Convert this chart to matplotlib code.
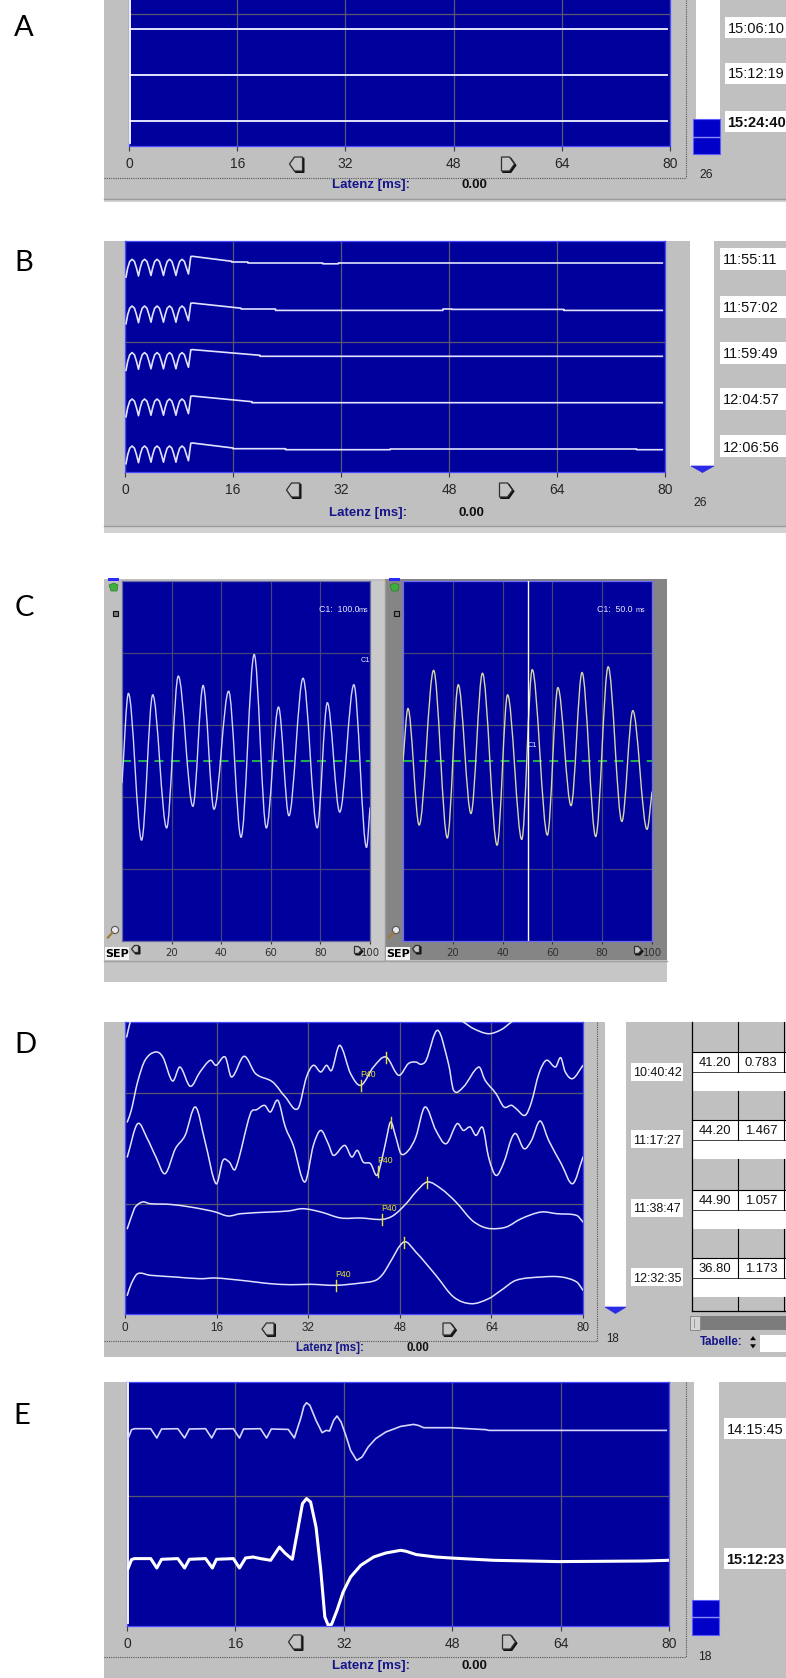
import numpy as np
import matplotlib
matplotlib.use("Agg")
import matplotlib.pyplot as plt
from matplotlib import font_manager
from matplotlib.patches import Rectangle, Polygon, PathPatch, Circle
from matplotlib.path import Path

# ======================= DATA =======================
panel_letters = ["A", "B", "C", "D", "E"]
latency_ticks = [0, 16, 32, 48, 64, 80]
sep_ticks = [20, 40, 60, 80, 100]

# --- A ---
a_times = ["15:06:10", "15:12:19", "15:24:40"]
a_bold = [False, False, True]
a_ms = [0.2, 79.6]
a_amp = [[0.0, 0.0], [0.0, 0.0], [0.0, 0.0]]
a_count = "26"

# --- B ---
b_times = ["11:55:11", "11:57:02", "11:59:49", "12:04:57", "12:06:56"]
b_count = "26"
b_onset_ms = [0.15, 0.4, 0.7, 1.05, 1.4, 1.7, 2.0, 2.25, 2.55, 2.9, 3.25, 3.55, 3.85,
              4.1, 4.4, 4.75, 5.1, 5.4, 5.7, 5.95, 6.25, 6.6, 6.95, 7.25, 7.55,
              7.8, 8.1, 8.45, 8.8, 9.1, 9.4, 9.75, 10.0]
b_onset_amp = [-14, -5, 1.5, 3.7, 1.5, -5, -13, -5, 1.5, 3.7, 1.5, -5, -12.5,
               -5, 1.5, 3.7, 1.5, -5, -12.5, -5, 1.5, 3.7, 1.5, -5, -12.5,
               -5, 1.5, 3.7, 1.5, -5, -11, 6.5, 6.7]
b_tail_ms = [
    [15.8, 15.8, 18.2, 18.2, 29.3, 29.3, 31.6, 31.6, 79.6],
    [17.2, 17.2, 22.3, 22.3, 47.1, 47.1, 48.4, 48.4, 65.0, 65.0, 79.6],
    [20.0, 20.0, 79.6],
    [18.8, 18.8, 79.6],
    [16.0, 16.0, 23.8, 23.8, 39.3, 39.3, 75.8, 75.8, 79.6],
]
b_tail_amp = [
    [1.7, 1.0, 1.0, 0.0, 0.0, -0.8, -0.8, 0.0, 0.0],
    [1.5, 0.7, 0.7, -0.7, -0.7, 0.7, 0.7, 0.3, 0.3, -0.7, -0.7],
    [1.0, 0.0, 0.0],
    [1.0, 0.0, 0.0],
    [1.7, 1.0, 1.0, 0.0, 0.0, 0.7, 0.7, 0.0, 0.0],
]

# --- C ---
c_cursor_text = ["100.0", "50.0"]
c_cursor_ms = [100.0, 50.0]
c_left_ms = [0.0, 2.6, 7.9, 12.4, 18.0, 22.7, 28.6, 32.7, 37.1, 43.0, 48.0, 53.3,
             58.2, 63.1, 67.3, 73.0, 78.7, 82.8, 87.8, 93.5, 98.6, 100.0]
c_left_val = [-0.30, 0.94, -1.10, 0.92, -0.93, 1.18, -0.63, 1.05, -0.67, 0.97, -1.06, 1.48,
              -0.93, 0.75, -0.76, 1.15, -0.93, 0.81, -0.71, 1.06, -1.20, -0.65]
c_right_ms = [0.0, 2.0, 6.5, 12.3, 17.8, 22.2, 27.3, 31.9, 37.8, 42.0, 47.7, 51.9,
              58.0, 62.2, 67.5, 71.9, 77.4, 82.4, 87.9, 92.3, 98.0, 100.0]
c_right_val = [0.0, 0.73, -0.89, 1.26, -1.07, 1.06, -0.73, 1.22, -1.17, 0.92, -1.09, 1.27,
               -1.03, 1.02, -0.62, 1.23, -1.05, 1.31, -0.84, 0.70, -0.95, -0.43]

# --- D ---
d_times = ["10:40:42", "11:17:27", "11:38:47", "12:32:35"]
d_p40_lat = [41.20, 44.20, 44.90, 36.80]
d_p40_amp_tbl = [0.783, 1.467, 1.057, 1.173]
d_peak_ms = [45.6, 46.4, 52.8, 48.7]
d_count = "18"
d0_ms = [0.3, 0.9, 2.0, 20.0, 50.0, 57.5, 59.1, 60.9, 63.5, 65.7, 67.5, 69.0, 75.0, 80.0]
d0_amp = [-36, -21, 0, 5, 5, -16, -21, -27.7, -32.7, -28.7, -21, -15, 0, -5]
d1_ms = [0.4, 1.1, 2.2, 3.5, 5.3, 6.6, 8.3, 9.6, 11.4, 13.1, 14.9, 15.9, 17.5, 18.6, 20.8,
         22.8, 25.8, 28.0, 30.2, 31.7, 32.9, 34.2, 35.2, 36.1, 37.5, 39.4, 41.2, 43.4, 45.6,
         47.8, 49.5, 50.8, 51.7, 52.6, 54.6, 56.5, 57.4, 59.1, 61.8, 62.9, 64.8, 66.2, 67.5,
         68.3, 69.9, 71.0, 72.3, 73.6, 75.2, 76.1, 76.9, 78.2, 80.0]
d1_amp = [-51.7, -40, -11.7, 10, 18.3, 13.3, -10.7, 3.3, -16, -1.7, 10, 5, 13.3, -6.7, 14,
          -3.3, -11.7, -26.7, -38.3, -6.7, 5, -1.7, 5, 0, 25, -3.3, -15, 3.3, 13.3,
          -5, 6.7, 8.3, 6, 10, 40, 6.7, -20, -16.7, 3.3, -10, -23.3, -36.7, -35,
          -38.3, -45, -31.7, -3.3, 10, 3.3, 12.7, -1.7, -8.3, 5]
d2_ms = [0.4, 2.2, 3.9, 5.4, 7.0, 8.8, 10.5, 12.3, 14.0, 15.9, 17.1, 18.2, 19.3, 21.9, 23.0,
         24.4, 25.4, 26.7, 28.0, 29.4, 31.4, 32.9, 34.2, 35.5, 36.4, 38.4, 39.6, 40.6, 41.6,
         42.9, 44.0, 44.9, 45.6, 46.4, 47.3, 48.2, 49.5, 50.8, 52.4, 54.3, 56.1, 58.0, 59.1,
         60.3, 61.3, 62.5, 63.5, 64.8, 66.2, 67.5, 68.3, 69.7, 71.0, 72.5, 74.0, 76.2, 78.2, 80.0]
d2_amp = [-17.3, 16, 1, -17.3, -34, -9, 4.3, 32.7, -2.3, -44, -20.7, -22.3, -29, 26, 30,
          34.3, 27.7, 39.3, 12.7, -5.7, -42.3, -5.7, 9.3, -4, -15.7, -5.7, -17.3, -10.7, -22.3,
          -24, -35.7, -19, -0.7, 17.7, 2.7, -14, -10.7, 2.7, 32.7, 9.3, -4, 16, 9.3,
          12.7, 4.3, 12, -17.3, -35.7, -22.3, 1, 6, -9, -0.7, 18.7, -0.7, -24, -44, -17.3]
d3_ms = [0.4, 1.1, 1.8, 3.1, 4.4, 7.9, 11.4, 14.0, 15.8, 18.0, 20.2, 25.4, 28.5, 31.1, 34.2,
         37.7, 41.2, 44.9, 46.9, 49.1, 50.8, 52.8, 55.2, 57.8, 60.5, 62.3, 64.0, 66.6, 69.2,
         72.7, 75.4, 78.9, 80.0]
d3_amp = [-20, -8.3, 1.7, 6.7, 5, 4.3, 1.7, -1, -3.3, -7.3, -5, -3.3, -2.3, 0, -3.3,
          -9.3, -9.3, -10.7, -6.7, 5, 16.7, 26.7, 20, 6.7, -11, -17.7, -20, -18.3, -10,
          -3.3, -5, -6.7, -13.3]
d4_ms = [0.4, 1.1, 2.2, 4.4, 8.8, 13.1, 15.8, 20.2, 22.8, 25.4, 28.9, 32.4, 36.8, 41.2, 43.8,
         45.1, 46.0, 48.7, 50.8, 54.3, 57.4, 60.5, 63.5, 65.7, 68.3, 72.7, 76.2, 78.9, 80.0]
d4_amp = [-18.3, -6.7, 3.3, 1.7, 0, -1.7, -1, -3.3, -5, -6.7, -7.7, -7.3, -8.3, -6, -3.3,
          3.3, 11.7, 35, 25, 1.7, -20, -26.7, -21.7, -13.3, -3.3, 0, 0, -5, -13.3]

# --- E ---
e_times = ["14:15:45", "15:12:23"]
e_bold = [False, True]
e_count = "18"
e1_ms = [0.15, 0.67, 1.1, 3.5, 4.4, 5.1, 7.5, 8.5, 9.2, 11.6, 12.5, 13.2, 15.7, 16.6, 17.2,
         19.7, 20.6, 21.3, 23.8, 24.7, 25.7, 26.1, 26.5, 27.0, 27.9, 28.8, 29.4, 29.9, 30.5,
         31.0, 31.6, 32.3, 33.0, 33.9, 34.7, 35.6, 36.7, 38.2, 40.4, 42.3, 43.0, 43.8, 47.8,
         50.4, 53.0, 53.4, 79.6]
e1_amp = [-10, -1, 0, 0, -9.3, -0.3, 0, -9.3, -0.3, 0, -9.3, -0.3, 0, -9.3, -0.3,
          0, -9.3, -0.3, -0.7, -9.3, 11.7, 22.3, 26, 23.3, 8.3, -4, -1.7, -2.3, 8.3,
          12.7, 6.7, -6.7, -21.7, -31.7, -28.3, -18.3, -10, -3.3, 2.3, 4.3, 3.3, 1, 1,
          0, -1, -1.7, -1.7]
e2_ms = [0.15, 0.67, 1.1, 3.5, 4.4, 5.1, 7.5, 8.5, 9.2, 11.6, 12.6, 13.2, 15.7, 16.6, 17.5,
         18.6, 19.7, 21.2, 22.5, 23.3, 24.4, 25.1, 25.9, 26.5, 27.1, 27.9, 28.6, 29.2, 29.7,
         30.2, 31.0, 31.9, 33.0, 34.5, 36.4, 38.2, 40.4, 41.2, 42.7, 45.6, 47.8, 54.1, 63.7,
         76.3, 80.0]
e2_amp = [-9.3, -0.3, 0.7, 0.7, -8.7, 0, 0.7, -8.7, 0, 0.7, -8.7, 0, 0.7, -8.7, 1.3,
          2.3, 0.7, -1, 12.3, 6.3, 0, 25.7, 55.7, 60.7, 57.3, 32.3, -11, -57.7, -66,
          -65, -51, -32.7, -17.7, -6, 2.3, 6.3, 9, 8, 4.7, 2.3, 1.3, -1, -2.3,
          -1.7, -1]

# ======================= STYLE / LAYOUT =======================
W, H, DPI = 786, 1678, 100
names = {f.name for f in font_manager.fontManager.ttflist}
REG = "Liberation Sans" if "Liberation Sans" in names else "DejaVu Sans"
LETTER_FONT = ["Lato", "DejaVu Sans"] if "Lato" in names else ["DejaVu Sans"]

GRAY = "#c0c0c0"
DGRAY = "#858585"
BLUE = "#00009c"
EDGE = "#4848ff"
GRID = "#58586c"
TRACE = "#e2e2ff"
NAVY = "#15158a"


def ui(size, bold=False):
    return {"family": [REG, "DejaVu Sans"], "fontsize": size, "fontweight": "bold" if bold else "normal"}


fig = plt.figure(figsize=(W / DPI, H / DPI), dpi=DPI)
fig.patch.set_facecolor("white")
bg = fig.add_axes([0, 0, 1, 1])
bg.set_xlim(0, W)
bg.set_ylim(H, 0)
bg.axis("off")
bg.set_zorder(0)


def rect(x0, y0, x1, y1, fc, ec="none", lw=0.0, z=1):
    bg.add_patch(Rectangle((x0, y0), x1 - x0, y1 - y0, fc=fc, ec=ec, lw=lw, zorder=z))


def hl(x0, x1, y, **kw):
    bg.plot([x0, x1], [y, y], **kw)


def vl(x, y0, y1, **kw):
    bg.plot([x, x], [y0, y1], **kw)


def nav_icon(cx, cy, direction, w=13, h=14, tip=5):
    hw, hh = w / 2, h / 2
    if direction < 0:
        pts = [(cx - hw, cy), (cx - hw + tip, cy - hh), (cx + hw, cy - hh), (cx + hw, cy + hh), (cx - hw + tip, cy + hh)]
    else:
        pts = [(cx + hw, cy), (cx + hw - tip, cy - hh), (cx - hw, cy - hh), (cx - hw, cy + hh), (cx + hw - tip, cy + hh)]
    shadow = [(x + 1.3, y + 1.3) for x, y in pts]
    bg.add_patch(Polygon(shadow, closed=True, fc="#101010", ec="#101010", lw=1.0, zorder=5))
    bg.add_patch(Polygon(pts, closed=True, fc="#c4c4c4", ec="#303030", lw=0.9, zorder=6))


def time_box(x0, x1, yc, h, text, bold, size):
    rect(x0, yc - h / 2, x1, yc + h / 2, "white", z=2)
    bg.text(x0 + 2.5, yc, text, ha="left", va="center_baseline", color="#111111", zorder=7,
            **ui(size, bold))


def mk_plot(box, xmax, ylim, xticks, xlabels, ygrid, font_kw, tick_px, pad_px, edge=EDGE, grid=GRID):
    x0, y0, x1, y1 = box
    ax = fig.add_axes([x0 / W, 1 - y1 / H, (x1 - x0) / W, (y1 - y0) / H])
    ax.set_zorder(3)
    ax.set_facecolor(BLUE)
    ax.set_xlim(0, xmax)
    ax.set_ylim(*ylim)
    ax.set_xticks(xticks)
    ax.set_xticklabels(xlabels, **font_kw)
    ax.set_yticks(ygrid)
    ax.tick_params(axis="x", direction="out", length=tick_px * 0.72, width=0.8, color="#3a3a3a",
                   pad=pad_px * 0.72, labelcolor="#262626")
    ax.tick_params(axis="y", left=False, labelleft=False)
    ax.grid(True, color=grid, lw=0.9)
    ax.set_axisbelow(True)
    for s in ax.spines.values():
        s.set_color(edge)
        s.set_linewidth(0.9)
    return ax


def smooth_path(xs, ys, flat=False):
    xs = np.asarray(xs, float)
    ys = np.asarray(ys, float)
    n = len(xs)
    m = np.zeros(n)
    m[0] = (ys[1] - ys[0]) / (xs[1] - xs[0])
    m[-1] = (ys[-1] - ys[-2]) / (xs[-1] - xs[-2])
    if not flat:
        m[1:-1] = (ys[2:] - ys[:-2]) / (xs[2:] - xs[:-2])
    verts = [(xs[0], ys[0])]
    codes = [Path.MOVETO]
    for i in range(n - 1):
        dx = xs[i + 1] - xs[i]
        verts += [(xs[i] + dx / 3, ys[i] + m[i] * dx / 3),
                  (xs[i + 1] - dx / 3, ys[i + 1] - m[i + 1] * dx / 3),
                  (xs[i + 1], ys[i + 1])]
        codes += [Path.CURVE4] * 3
    return Path(verts, codes)


def draw_smooth(ax, xs, ys, color, lw, flat=False):
    ax.add_patch(PathPatch(smooth_path(xs, ys, flat), fill=False, ec=color, lw=lw,
                           joinstyle="round", capstyle="round", zorder=4))


def latenz(xl, xv, y, size=9.5):
    bg.text(xl, y, "Latenz [ms]:", ha="center", va="center", color=NAVY, zorder=7, **ui(size, True))
    bg.text(xv, y, "0.00", ha="center", va="center", color="#111111", zorder=7, **ui(size, True))


# panel letters
letter_pos = [(24, 28), (24, 263), (24, 608), (25, 1045), (22, 1416)]
for lab, (lx, ly) in zip(panel_letters, letter_pos):
    bg.text(lx, ly, lab, ha="center", va="center", fontsize=21, family=LETTER_FONT, color="black", zorder=8)

lat_labels = [str(t) for t in latency_ticks]

# ======================= PANEL A =======================
rect(104, 0, 786, 202, GRAY)
rect(104, 199, 786, 202, "#d2d2d2")
hl(104, 786, 198.5, color="#9a9a9a", lw=1.0, zorder=2)
hl(104, 686, 178, color="#555555", lw=0.8, ls=(0, (1, 1)), zorder=2)
vl(686, 0, 178, color="#555555", lw=0.8, ls=(0, (1, 1)), zorder=2)
rect(696, 0, 720, 119, "white", z=2)
rect(693, 119, 720, 154, "#0000c8", ec="#5a5aff", lw=0.8, z=3)
hl(693, 720, 136.5, color="#8a8aff", lw=1.0, zorder=4)
bg.text(706, 173, a_count, ha="center", va="center_baseline", color="#222222", zorder=7, **ui(8.8))
for t, b, yc in zip(a_times, a_bold, [27.5, 73, 121.5]):
    time_box(725, 790, yc, 21, t, b, 10.5)
nav_icon(296, 164, -1)
nav_icon(508, 164, +1)
latenz(371, 474, 185)

axA = mk_plot((129, 0, 670, 146), 80, (146, 0), latency_ticks, lat_labels, [14],
              ui(10), 5, 5.5)
axA.spines["top"].set_visible(False)
for base, amp in zip([29, 75, 121], a_amp):
    axA.plot(a_ms, [base - v for v in amp], color=TRACE, lw=1.4, zorder=4)
axA.plot([0.15, 0.15], [0, 143], color="white", lw=1.3, zorder=4)

# ======================= PANEL B =======================
rect(104, 241, 786, 533, GRAY)
rect(104, 526, 786, 533, "#d2d2d2")
hl(104, 786, 525.5, color="#9a9a9a", lw=1.0, zorder=2)
rect(690, 241, 714, 466, "white", z=2)
bg.add_patch(Polygon([(691, 466), (714, 466), (702.5, 472.5)], closed=True, fc="#2a2ae6", ec="#2a2ae6", lw=0.5, zorder=3))
bg.text(700, 501, b_count, ha="center", va="center_baseline", color="#222222", zorder=7, **ui(8.8))
for t, yc in zip(b_times, [259, 307, 353, 399, 446]):
    time_box(720, 790, yc, 22, t, False, 10.5)
nav_icon(293, 490, -1)
nav_icon(506, 490, +1)
latenz(368, 471, 513)

axB = mk_plot((125, 241, 665, 472), 80, (231, 0), latency_ticks, lat_labels, [101],
              ui(10), 5, 5.5)
b_base = [22, 68.7, 115.3, 161.7, 208.7]
for base, tms, tamp in zip(b_base, b_tail_ms, b_tail_amp):
    xs = b_onset_ms + tms
    ys = [base - v for v in (b_onset_amp + tamp)]
    axB.plot(xs, ys, color=TRACE, lw=1.2, zorder=4, solid_joinstyle="round")

# ======================= PANEL C =======================
rect(104, 579, 385, 960, GRAY)
rect(385, 579, 667, 960, DGRAY)
rect(370, 581, 385, 960, "#c9c9c9")
vl(385, 579, 960, color="#9a9a9a", lw=1.0, zorder=2)
rect(104, 960, 667, 982, "#c6c6c6")
hl(104, 667, 960.5, color="#a0a0a0", lw=1.0, zorder=2)
for ox in (0, 281):
    rect(108 + ox, 578, 119 + ox, 580.5, "#2a2aff", z=3)
    bg.add_patch(Polygon([(109 + ox, 585), (114 + ox, 583), (118 + ox, 585), (117 + ox, 591), (111 + ox, 591)],
                         closed=True, fc="#3fae3f", ec="#2c7a2c", lw=0.5, zorder=3))
    rect(112.5 + ox, 610.5, 118 + ox, 616, "#7a7a7a", ec="#111111", lw=0.8, z=3)
    bg.add_patch(Circle((115 + ox, 930), 3.6, fc="#e8e8f0", ec="#555555", lw=0.8, zorder=4))
    bg.plot([112.5 + ox, 108 + ox], [932.5, 937.5], color="#9a7a3a", lw=1.6, zorder=4)
    rect(105 + ox, 947, 129 + ox, 960, "#f2f2f2", z=3)
    bg.text(117 + ox, 954, "SEP", ha="center", va="center", color="black", fontsize=8,
            fontweight="bold", family=["DejaVu Sans"], zorder=7)
nav_icon(135, 949, -1, w=7, h=7, tip=3)
nav_icon(358, 950, +1, w=7, h=7, tip=3)
nav_icon(416, 949, -1, w=7, h=7, tip=3)
nav_icon(638, 950, +1, w=7, h=7, tip=3)

c_font = {"family": ["DejaVu Sans"], "fontsize": 7.3}
c_grid = [-1.5, -0.5, 0.5, 1.5]
axCL = mk_plot((122, 581, 370, 941), 100, (-2.5, 2.5), sep_ticks, [str(t) for t in sep_ticks], c_grid,
               c_font, 3, 4.2, edge="#6a6aa8", grid="#44447a")
axCR = mk_plot((403, 581, 652, 941), 100, (-2.5, 2.5), sep_ticks, [str(t) for t in sep_ticks], c_grid,
               c_font, 3, 4.2, edge="#6a6aff", grid="#44447a")
for ax in (axCL, axCR):
    ax.axhline(0, color="#22c04a", lw=1.3, ls=(0, (5, 4)), zorder=3)
    for lab in ax.get_xticklabels():
        lab.set_color("#303030")
draw_smooth(axCL, c_left_ms, c_left_val, "#d4d4ff", 1.0, flat=True)
draw_smooth(axCR, c_right_ms, c_right_val, "#d6d6a2", 1.0, flat=True)
axCR.axvline(c_cursor_ms[1], color="white", lw=1.0, zorder=5)
for ax, txt, xr, xm in ((axCL, c_cursor_text[0], 0.956, 0.992), (axCR, c_cursor_text[1], 0.92, 0.972)):
    ax.text(xr, 0.922, "C1:  " + txt, transform=ax.transAxes, ha="right", va="center",
            color="#e8e8ff", zorder=6, **ui(6.3))
    ax.text(xm, 0.919, "ms", transform=ax.transAxes, ha="right", va="center",
            color="#e8e8ff", zorder=6, **ui(5.2))
axCL.text(98.2, 1.4, "C1", ha="center", va="center", color="#e8e8ff", zorder=6, **ui(5.2))
axCR.text(51.8, 0.22, "C1", ha="center", va="center", color="#e8e8ff", zorder=6, **ui(5.2))

# ======================= PANEL D =======================
rect(104, 1022, 786, 1357, GRAY)
hl(104, 597, 1341, color="#555555", lw=0.8, ls=(0, (1, 1)), zorder=2)
vl(597, 1022, 1341, color="#555555", lw=0.8, ls=(0, (1, 1)), zorder=2)
rect(605, 1022, 626, 1307, "white", z=2)
bg.add_patch(Polygon([(605, 1307), (626, 1307), (615.5, 1313.5)], closed=True, fc="#2a2ae6", ec="#2a2ae6", lw=0.5, zorder=3))
bg.text(613, 1338, d_count, ha="center", va="center_baseline", color="#222222", zorder=7, **ui(8.3))
for t, yc in zip(d_times, [1072, 1139, 1208, 1277]):
    time_box(631, 683, yc, 18, t, False, 9.0)
# table
row_tops = [1052, 1120, 1190, 1258]
for yt, lat, amp in zip(row_tops, d_p40_lat, d_p40_amp_tbl):
    rect(692, yt, 790, yt + 19.5, "white", z=2)
    rect(692, yt + 19.5, 790, yt + 38.5, "white", z=2)
    hl(692, 790, yt, color="black", lw=0.8, zorder=3)
    hl(692, 790, yt + 19.5, color="#222222", lw=0.6, zorder=3)
    bg.text(715, yt + 10, f"{lat:.2f}", ha="center", va="center_baseline", color="#111111", zorder=7, **ui(9.4))
    bg.text(761, yt + 10, f"{amp:.3f}", ha="center", va="center_baseline", color="#111111", zorder=7, **ui(9.4))
gray_segments = [(1022, 1071.5), (1090.5, 1139.5), (1158.5, 1209.5), (1228.5, 1277.5), (1296.5, 1311)]
for y0, y1 in gray_segments:
    for xc in (738, 784):
        vl(xc, y0, y1, color="black", lw=0.8, zorder=3)
vl(692, 1022, 1311, color="black", lw=0.9, zorder=3)
hl(692, 790, 1311, color="black", lw=0.9, zorder=3)
rect(690, 1316, 790, 1330, "#7c7c7c", z=2)
rect(690, 1316, 700, 1330, "#d4d4d4", ec="#8a8a8a", lw=0.7, z=3)
vl(693.5, 1319, 1327, color="#909090", lw=0.6, zorder=4)
bg.text(721, 1342, "Tabelle:", ha="center", va="center", color=NAVY, zorder=7, **ui(8.3, True))
bg.add_patch(Polygon([(750.5, 1340), (755.5, 1340), (753, 1336.5)], closed=True, fc="black", ec="black", lw=0.3, zorder=5))
bg.add_patch(Polygon([(750.5, 1344.5), (755.5, 1344.5), (753, 1348)], closed=True, fc="black", ec="black", lw=0.3, zorder=5))
rect(760, 1335, 790, 1352, "white", z=2)
nav_icon(268, 1329, -1, w=12, h=12, tip=4.5)
nav_icon(449, 1329, +1, w=12, h=12, tip=4.5)
latenz(330, 418, 1348, size=8.3)

axD = mk_plot((125, 1022, 583, 1314), 80, (292, 0), latency_ticks, lat_labels, [71, 181.7],
              ui(8.4), 4, 4)
d_base = [-21.0, 48.3, 117.7, 186.7, 255.0]
d_traces = [(d0_ms, d0_amp), (d1_ms, d1_amp), (d2_ms, d2_amp), (d3_ms, d3_amp), (d4_ms, d4_amp)]
for base, (xs, amps) in zip(d_base, d_traces):
    draw_smooth(axD, xs, [base - v for v in amps], TRACE, 1.1)
YEL = "#e6e62a"
for i, (lat, pk) in enumerate(zip(d_p40_lat, d_peak_ms)):
    xs, amps = d_traces[i + 1]
    base = d_base[i + 1]
    for ms in (lat, pk):
        yv = base - np.interp(ms, xs, amps)
        axD.plot([ms, ms], [yv - 5.5, yv + 5.5], color=YEL, lw=1.0, zorder=5)
    yv = base - np.interp(lat, xs, amps)
    axD.annotate("P40", (lat, yv), xytext=(7, 11), textcoords="offset pixels", ha="center",
                 va="center", color=YEL, zorder=6, **ui(6.2))

# ======================= PANEL E =======================
rect(104, 1382, 786, 1678, GRAY)
hl(104, 686, 1657, color="#555555", lw=0.8, ls=(0, (1, 1)), zorder=2)
vl(686, 1382, 1657, color="#555555", lw=0.8, ls=(0, (1, 1)), zorder=2)
rect(694, 1382, 719, 1600, "white", z=2)
rect(692, 1600, 719, 1635, "#0000c8", ec="#5a5aff", lw=0.8, z=3)
hl(692, 719, 1617, color="#8a8aff", lw=1.0, zorder=4)
bg.text(705, 1655, e_count, ha="center", va="center_baseline", color="#222222", zorder=7, **ui(8.8))
for t, b, yc in zip(e_times, e_bold, [1428, 1558]):
    time_box(724, 790, yc, 21, t, b, 10.5)
nav_icon(295, 1642, -1)
nav_icon(509, 1642, +1)
latenz(371, 474, 1666)

axE = mk_plot((127, 1382, 669, 1626), 80, (244, 0), latency_ticks, lat_labels, [114],
              ui(10), 5, 5.5)
axE.plot([0.15, 0.15], [0, 241], color="white", lw=1.3, zorder=4)
axE.plot(e1_ms, [46.7 - v for v in e1_amp], color="#d6d6ff", lw=1.2, zorder=4, solid_joinstyle="round")
axE.plot(e2_ms, [177.3 - v for v in e2_amp], color="white", lw=2.2, zorder=4, solid_joinstyle="round")

fig.savefig("out.png", dpi=DPI, facecolor="white")
